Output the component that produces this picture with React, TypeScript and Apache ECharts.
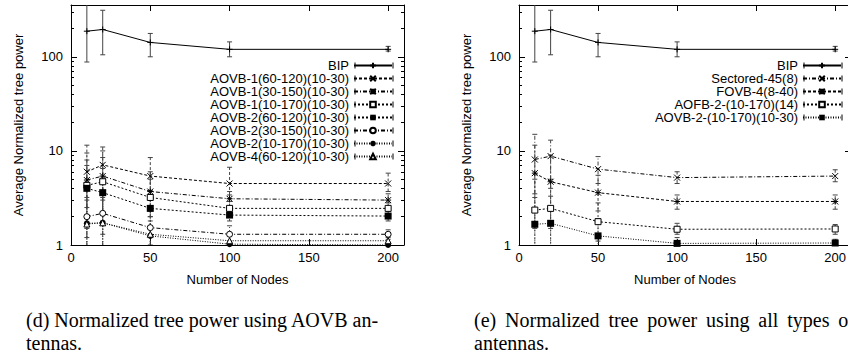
import React, { useEffect, useRef } from "react";
import * as echarts from "echarts";

// ---------- data ----------
const nodes = [10, 20, 50, 100, 200];
const xTicks = [0, 50, 100, 150, 200];
const yMajor = [1, 10, 100];
const yMinor = [2, 3, 4, 5, 6, 7, 8, 9, 20, 30, 40, 50, 60, 70, 80, 90, 200, 300];

const bipMean = [187, 195, 142, 120, 120];
const bipLow = [88, 105, 100, 100, 115];
const bipHigh = [400, 312, 177, 144, 129];

// left chart (d)
const a1_60_120 = [6.0, 7.1, 5.4, 4.5, 4.5];
const a1_60_120Low = [2.5, 3.0, 3.0, 3.4, 3.7];
const a1_60_120High = [11.5, 11.0, 8.5, 6.7, 5.8];

const a1_30_150 = [4.9, 5.4, 3.7, 3.1, 3.0];
const a1_30_150Low = [2.0, 2.2, 2.3, 2.5, 2.5];
const a1_30_150High = [9.5, 10.0, 6.0, 3.7, 3.5];

const a1_10_170 = [4.3, 4.7, 3.2, 2.45, 2.45];
const a1_10_170Low = [1.5, 1.8, 2.0, 2.1, 2.1];
const a1_10_170High = [8.0, 8.5, 5.0, 2.9, 2.8];

const a2_60_120 = [4.0, 3.6, 2.45, 2.08, 2.03];
const a2_60_120Low = [1.2, 1.3, 1.6, 1.8, 1.8];
const a2_60_120High = [7.0, 6.5, 3.8, 2.4, 2.3];

const a2_30_150 = [2.0, 2.17, 1.53, 1.3, 1.3];
const a2_30_150Low = [0.8, 0.8, 1.0, 1.05, 1.15];
const a2_30_150High = [4.0, 4.5, 2.5, 1.6, 1.45];

const a2_10_170 = [1.7, 1.72, 1.25, 1.02, 1.0];
const a2_10_170Low = [0.7, 0.7, 0.9, 0.98, 0.98];
const a2_10_170High = [3.0, 3.2, 1.8, 1.1, 1.05];

const a4_60_120 = [1.67, 1.72, 1.3, 1.11, 1.11];
const a4_60_120Low = [0.7, 0.7, 0.85, 1.0, 1.02];
const a4_60_120High = [3.2, 3.4, 2.0, 1.25, 1.2];

// right chart (e)
const sectored = [8.1, 8.8, 6.4, 5.2, 5.4];
const sectoredLow = [3.5, 4.0, 4.5, 4.5, 4.7];
const sectoredHigh = [15.0, 13.0, 8.7, 6.0, 6.3];

const fovb = [5.8, 4.7, 3.6, 2.9, 2.9];
const fovbLow = [1.5, 1.5, 2.3, 2.4, 2.4];
const fovbHigh = [11.5, 9.0, 5.5, 3.4, 3.4];

const aofb = [2.35, 2.45, 1.77, 1.47, 1.48];
const aofbLow = [0.7, 0.7, 1.1, 1.3, 1.3];
const aofbHigh = [5.0, 5.0, 2.8, 1.7, 1.65];

const aovb2 = [1.66, 1.7, 1.25, 1.04, 1.05];
const aovb2Low = [0.6, 0.6, 0.8, 0.95, 0.97];
const aovb2High = [3.2, 3.3, 1.9, 1.2, 1.15];

const captionD = ["(d) Normalized tree power using AOVB an-", "tennas."];
const captionE = ["(e) Normalized tree power using all types of", "antennas."];

// ---------- styles ----------
const PLUS = "path://M0,5L10,5M5,0L5,10";
const CROSS = "path://M0,0L10,10M10,0L0,10";
const STAR = "path://M0,0L10,10M10,0L0,10M0,5L10,5M5,0L5,10";
const OSQUARE = "path://M0,0L10,0L10,10L0,10Z";
const OCIRCLE = "path://M5,0A5,5,0,1,1,5,10A5,5,0,1,1,5,0Z";
const OTRI = "path://M5,0L10,10L0,10Z";

const DASH = [3, 2];
const DASHDOT = [4, 2, 1, 2];
const DOT = [2, 2];
const FINEDOT = [1, 1.5];

type Def = {
  name: string;
  mean: number[];
  low: number[];
  high: number[];
  dash: number[] | null;
  symbol: string;
  size: number;
  hollow?: boolean;
};

const leftDefs: Def[] = [
  { name: "BIP", mean: bipMean, low: bipLow, high: bipHigh, dash: null, symbol: PLUS, size: 6 },
  { name: "AOVB-1(60-120)(10-30)", mean: a1_60_120, low: a1_60_120Low, high: a1_60_120High, dash: DASH, symbol: CROSS, size: 6 },
  { name: "AOVB-1(30-150)(10-30)", mean: a1_30_150, low: a1_30_150Low, high: a1_30_150High, dash: DASHDOT, symbol: STAR, size: 6 },
  { name: "AOVB-1(10-170)(10-30)", mean: a1_10_170, low: a1_10_170Low, high: a1_10_170High, dash: DOT, symbol: OSQUARE, size: 6, hollow: true },
  { name: "AOVB-2(60-120)(10-30)", mean: a2_60_120, low: a2_60_120Low, high: a2_60_120High, dash: DOT, symbol: "rect", size: 7 },
  { name: "AOVB-2(30-150)(10-30)", mean: a2_30_150, low: a2_30_150Low, high: a2_30_150High, dash: DASHDOT, symbol: OCIRCLE, size: 6, hollow: true },
  { name: "AOVB-2(10-170)(10-30)", mean: a2_10_170, low: a2_10_170Low, high: a2_10_170High, dash: FINEDOT, symbol: "circle", size: 6 },
  { name: "AOVB-4(60-120)(10-30)", mean: a4_60_120, low: a4_60_120Low, high: a4_60_120High, dash: FINEDOT, symbol: OTRI, size: 6, hollow: true },
];

const rightDefs: Def[] = [
  { name: "BIP", mean: bipMean, low: bipLow, high: bipHigh, dash: null, symbol: PLUS, size: 6 },
  { name: "Sectored-45(8)", mean: sectored, low: sectoredLow, high: sectoredHigh, dash: DASHDOT, symbol: CROSS, size: 6 },
  { name: "FOVB-4(8-40)", mean: fovb, low: fovbLow, high: fovbHigh, dash: DASH, symbol: STAR, size: 6 },
  { name: "AOFB-2-(10-170)(14)", mean: aofb, low: aofbLow, high: aofbHigh, dash: DOT, symbol: OSQUARE, size: 6, hollow: true },
  { name: "AOVB-2-(10-170)(10-30)", mean: aovb2, low: aovb2Low, high: aovb2High, dash: FINEDOT, symbol: "rect", size: 7 },
];

// ---------- layout ----------
const W = 860;
const H = 358;
const GRIDS = [
  { left: 71, top: 5, width: 333, height: 240 },
  { left: 519, top: 5, width: 332, height: 240 },
];
const FONT = "Liberation Sans";
const SERIF = "Liberation Serif";
const CAP_FONT = `20px "${SERIF}"`;
const INK = "#000";
const ERR = "#444";
const ROW = 13;

function measure(t: string): number {
  const ctx = document.createElement("canvas").getContext("2d");
  if (!ctx) return t.length * 9;
  ctx.font = CAP_FONT;
  return ctx.measureText(t).width;
}

function buildOption() {
  const xAxis: any[] = [];
  const yAxis: any[] = [];
  const series: any[] = [];
  const legend: any[] = [];
  const graphic: any[] = [];

  GRIDS.forEach((g, gi) => {
    const base = { type: "value", gridIndex: gi, min: 0, max: 210, splitLine: { show: false } };
    xAxis.push({
      ...base,
      position: "bottom",
      axisLine: { show: true, lineStyle: { color: INK, width: 1 } },
      axisTick: { show: true, inside: true, length: 6, customValues: xTicks, lineStyle: { color: INK } },
      axisLabel: { show: true, customValues: xTicks, color: INK, fontSize: 13, fontFamily: FONT, margin: 6 },
      name: "Number of Nodes",
      nameLocation: "middle",
      nameGap: 28,
      nameTextStyle: { color: INK, fontSize: 13, fontFamily: FONT },
    });
    xAxis.push({
      ...base,
      position: "top",
      axisLine: { show: true, lineStyle: { color: INK, width: 1 } },
      axisTick: { show: true, inside: true, length: 6, customValues: xTicks, lineStyle: { color: INK } },
      axisLabel: { show: false },
    });
    const ybase = { type: "log", logBase: 10, gridIndex: gi, min: 1, max: 355, splitLine: { show: false } };
    yAxis.push({
      ...ybase,
      position: "left",
      axisLine: { show: true, lineStyle: { color: INK, width: 1 } },
      axisTick: { show: true, inside: true, length: 6, customValues: yMajor, lineStyle: { color: INK } },
      axisLabel: { show: true, customValues: yMajor, color: INK, fontSize: 13, fontFamily: FONT, margin: 8 },
      name: "Average Normalized tree power",
      nameLocation: "middle",
      nameGap: 46,
      nameRotate: 90,
      nameTextStyle: { color: INK, fontSize: 13, fontFamily: FONT },
    });
    yAxis.push({
      ...ybase,
      position: "left",
      axisLine: { show: false },
      axisTick: { show: true, inside: true, length: 3, customValues: yMinor, lineStyle: { color: INK } },
      axisLabel: { show: false },
    });
    yAxis.push({
      ...ybase,
      position: "right",
      axisLine: { show: true, lineStyle: { color: INK, width: 1 } },
      axisTick: { show: true, inside: true, length: 6, customValues: yMajor, lineStyle: { color: INK } },
      axisLabel: { show: false },
    });
    yAxis.push({
      ...ybase,
      position: "right",
      axisLine: { show: false },
      axisTick: { show: true, inside: true, length: 3, customValues: yMinor, lineStyle: { color: INK } },
      axisLabel: { show: false },
    });

    const defs = gi === 0 ? leftDefs : rightDefs;
    const xIdx = gi * 2;
    const yIdx = gi * 4;
    defs.forEach((d) => {
      const lineStyle = { color: INK, width: 1, type: d.dash ? d.dash : "solid" };
      series.push({
        type: "custom",
        name: d.name + " error",
        xAxisIndex: xIdx,
        yAxisIndex: yIdx,
        clip: true,
        silent: true,
        z: 1,
        data: nodes.map((n, i) => [n, d.low[i], d.high[i]]),
        encode: { x: 0, y: [1, 2] },
        renderItem: (params: any, api: any) => {
          const x = api.value(0);
          const a = api.coord([x, api.value(1)]);
          const b = api.coord([x, api.value(2)]);
          const cap = 2.5;
          const st = { stroke: ERR, lineWidth: 1, lineDash: d.dash || null };
          const cs = { stroke: ERR, lineWidth: 1 };
          return {
            type: "group",
            children: [
              { type: "line", shape: { x1: a[0], y1: a[1], x2: b[0], y2: b[1] }, style: st },
              { type: "line", shape: { x1: a[0] - cap, y1: a[1], x2: a[0] + cap, y2: a[1] }, style: cs },
              { type: "line", shape: { x1: b[0] - cap, y1: b[1], x2: b[0] + cap, y2: b[1] }, style: cs },
            ],
          };
        },
      });
      series.push({
        type: "line",
        name: d.name,
        xAxisIndex: xIdx,
        yAxisIndex: yIdx,
        data: nodes.map((n, i) => [n, d.mean[i]]),
        symbol: d.symbol,
        symbolSize: d.size,
        showAllSymbol: true,
        lineStyle,
        itemStyle: d.hollow
          ? { color: "#fff", borderColor: INK, borderWidth: 1 }
          : { color: INK, borderColor: INK, borderWidth: d.symbol.startsWith("path://") ? 1 : 0 },
        emphasis: { disabled: true },
        z: 3,
      });
    });

    const rightEdge = gi === 0 ? 393 : 842;
    legend.push({
      orient: "vertical",
      align: "right",
      right: W - rightEdge,
      top: 59,
      itemWidth: 38,
      itemHeight: 7,
      itemGap: 0,
      padding: 0,
      selectedMode: false,
      data: defs.map((d) => d.name),
      lineStyle: { color: INK },
      textStyle: { color: INK, fontSize: 13, fontFamily: FONT, padding: 0, lineHeight: ROW, height: ROW },
    });
    defs.forEach((d, i) => {
      const cy = 65.5 + i * ROW;
      [rightEdge - 38, rightEdge].forEach((cx) => {
        graphic.push({
          type: "line",
          shape: { x1: cx, y1: cy - 3, x2: cx, y2: cy + 3 },
          style: { stroke: INK, lineWidth: 1 },
          silent: true,
        });
      });
    });
  });

  // captions; first line of (e) is justified word by word as in the typeset original
  const caps = [
    { x: 26, lines: captionD, justify: 0 },
    { x: 474, lines: captionE, justify: 381 },
  ];
  caps.forEach((c) => {
    c.lines.forEach((t, i) => {
      const y = 320 + i * 23;
      if (i === 0 && c.justify > 0) {
        const words = t.split(" ");
        const widths = words.map(measure);
        const sum = widths.reduce((s, v) => s + v, 0);
        const gap = (c.justify - sum) / (words.length - 1);
        let x = c.x;
        words.forEach((w, k) => {
          graphic.push({
            type: "text",
            x,
            y,
            silent: true,
            style: { text: w, fill: INK, font: CAP_FONT, verticalAlign: "middle", align: "left" },
          });
          x += widths[k] + gap;
        });
      } else {
        graphic.push({
          type: "text",
          x: c.x,
          y,
          silent: true,
          style: { text: t, fill: INK, font: CAP_FONT, verticalAlign: "middle", align: "left" },
        });
      }
    });
  });

  return {
    animation: false,
    backgroundColor: "#fff",
    textStyle: { fontFamily: FONT },
    grid: GRIDS.map((g) => ({ ...g, containLabel: false, outerBoundsMode: "none" })),
    xAxis,
    yAxis,
    legend,
    series,
    graphic,
  };
}

export default function App() {
  const ref = useRef<HTMLDivElement>(null);
  useEffect(() => {
    if (!ref.current) return;
    const chart = echarts.init(ref.current, undefined, { renderer: "svg", width: W, height: H });
    chart.setOption(buildOption() as any);
    return () => chart.dispose();
  }, []);
  return (
    <div
      style={{
        position: "fixed",
        left: 0,
        top: 0,
        width: 848,
        height: 358,
        overflow: "hidden",
        background: "#fff",
      }}
    >
      <div ref={ref} style={{ width: W, height: H }} />
    </div>
  );
}
